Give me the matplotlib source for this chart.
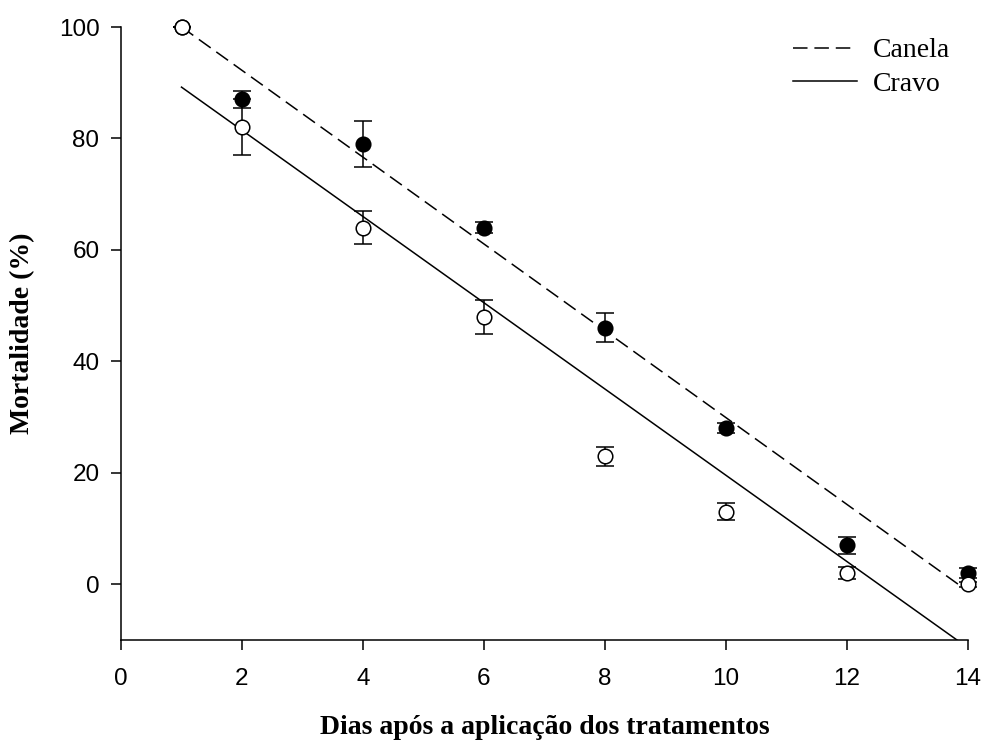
import matplotlib
matplotlib.use("Agg")
import matplotlib.pyplot as plt
import numpy as np

# ---- data ----
days_canela = [1, 2, 4, 6, 8, 10, 12, 14]
mort_canela = [100, 87, 79, 64, 46, 28, 7, 2]
err_canela = [0, 1.5, 4.2, 1.0, 2.6, 0.9, 1.5, 0.9]

days_cravo = [1, 2, 4, 6, 8, 10, 12, 14]
mort_cravo = [100, 82, 64, 48, 23, 13, 2, 0]
err_cravo = [0, 5.0, 3.0, 3.0, 1.7, 1.5, 1.1, 0.4]

# regression lines: intercept, slope, x range
fit_canela = (107.8, -7.79)
range_canela = (1, 13.87)
fit_cravo = (96.95, -7.74)
range_cravo = (1, 14)

labels = ["Canela", "Cravo"]
xticks = [0, 2, 4, 6, 8, 10, 12, 14]
yticks = [0, 20, 40, 60, 80, 100]

fig = plt.figure(figsize=(9.84, 7.40), dpi=100)
ax = fig.add_axes([121/984, 1-640/740, (968-121)/984, (640-27)/740])

LW = 1.1
# fitted lines
xc = np.array(range_canela)
ax.plot(xc, fit_canela[0] + fit_canela[1]*xc, color="black", lw=LW,
        dashes=(9.5, 4.5), label=labels[0], zorder=2)
xv = np.array(range_cravo)
ax.plot(xv, fit_cravo[0] + fit_cravo[1]*xv, color="black", lw=LW,
        ls="-", label=labels[1], zorder=2)

# points with error bars
for d, m, e, fc, z in [(days_canela, mort_canela, err_canela, "black", 3),
                       (days_cravo, mort_cravo, err_cravo, "white", 4)]:
    cont = ax.errorbar(d, m, yerr=e, fmt="o", ms=10.5,
                       mfc=fc, mec="black", mew=1.1, ecolor="black", elinewidth=LW,
                       capsize=6.5, capthick=LW, zorder=z)
    for artist in cont.get_children():
        artist.set_clip_on(False)

ax.set_xlim(0, 14)
ax.set_ylim(-10, 100)
ax.set_xticks(xticks)
ax.set_yticks(yticks)
ax.spines["top"].set_visible(False)
ax.spines["right"].set_visible(False)
for s in ["left", "bottom"]:
    ax.spines[s].set_linewidth(LW)
ax.tick_params(direction="out", length=7, width=LW, labelsize=17.5)
ax.tick_params(axis="x", pad=13)
ax.tick_params(axis="y", pad=8.5)
for lab in ax.get_xticklabels() + ax.get_yticklabels():
    lab.set_family("Liberation Sans")

ax.set_xlabel("Dias após a aplicação dos tratamentos", family="Liberation Serif",
              fontweight="bold", fontsize=20, labelpad=18)
ax.set_ylabel("Mortalidade (%)", family="Liberation Serif",
              fontweight="bold", fontsize=20, labelpad=17)

leg = ax.legend(loc="upper right", bbox_to_anchor=(1.008, 1.023), frameon=False,
                prop={"family": "Liberation Serif", "size": 20},
                handlelength=2.3, handletextpad=0.55, labelspacing=0.3)

fig.savefig("out.png", dpi=100)
